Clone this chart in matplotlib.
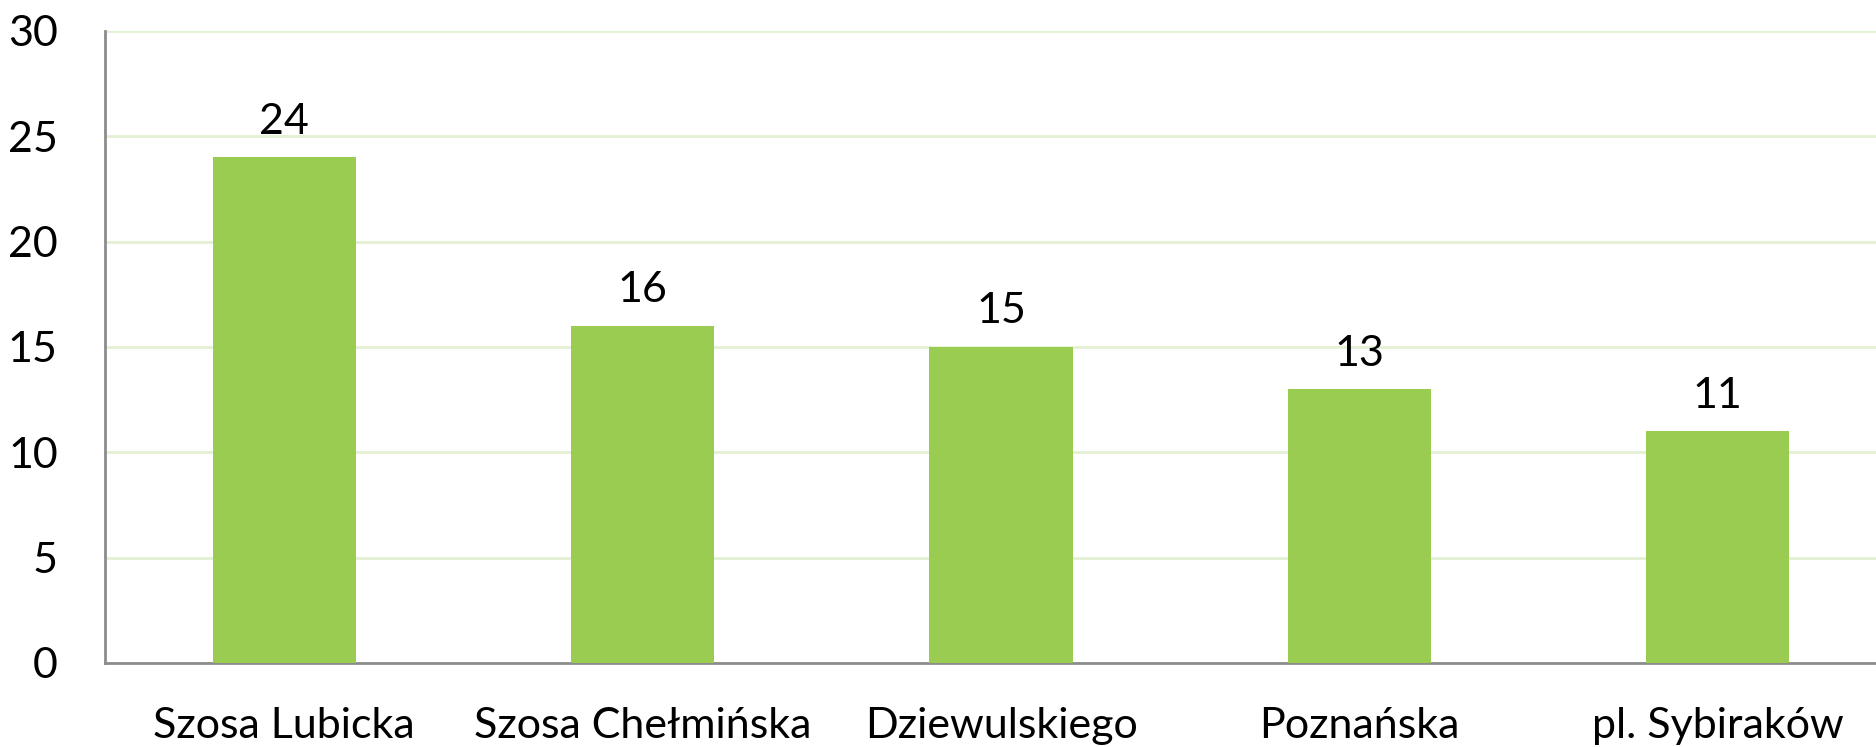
import matplotlib
matplotlib.use("Agg")
from matplotlib import pyplot as plt

streets = ["Szosa Lubicka", "Szosa Chełmińska", "Dziewulskiego", "Poznańska", "pl. Sybiraków"]
counts = [24, 16, 15, 13, 11]
yticks = [0, 5, 10, 15, 20, 25, 30]

plt.rcParams['font.family'] = ['Lato', 'DejaVu Sans']

fig = plt.figure(figsize=(18.76, 7.47), dpi=100)
# plot area runs past the right edge of the image, like the reference
ax = fig.add_axes([105/1876, 1 - 663/747, 1792/1876, 632/747])

x = range(len(streets))
ax.bar(x, counts, width=0.4, color="#9BCC52", zorder=3)
for xi, v in zip(x, counts):
    ax.annotate(str(v), (xi, v), xytext=(0, 17), textcoords="offset points",
                ha="center", va="baseline", fontsize=31, color="black")

ax.set_xlim(-0.5, len(streets) - 0.5)
ax.set_ylim(0, 30)
ax.set_yticks(yticks)
ax.set_xticks(list(x))
ax.set_xticklabels(streets)
ax.tick_params(axis="both", length=0, labelsize=31, colors="black")
ax.tick_params(axis="x", pad=32)
ax.tick_params(axis="y", pad=34)

ax.grid(axis="y", color="#E2F1D3", linewidth=2, zorder=0)
for s in ["top", "right"]:
    ax.spines[s].set_visible(False)
ax.spines["left"].set_color("#8C8C8C")
ax.spines["bottom"].set_color("#8C8C8C")
ax.spines["left"].set_linewidth(2)
ax.spines["bottom"].set_linewidth(2)

fig.savefig("out.png")
